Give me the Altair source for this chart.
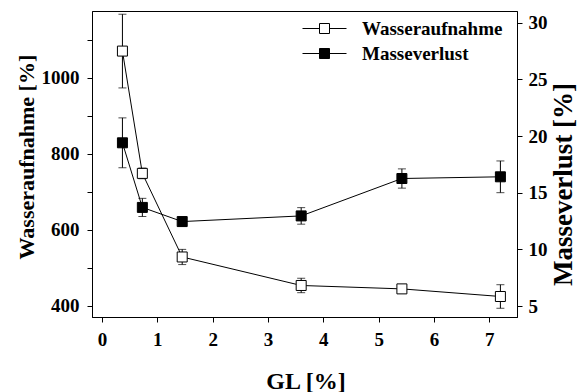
import altair as alt
import pandas as pd

# ---- data ----
gl = [0.37, 0.73, 1.45, 3.6, 5.42, 7.2]
wasser = [1070, 748, 528, 453, 444, 424]
wasser_err = [97, 14, 20, 19, 6, 31]
masse = [19.4, 13.7, 12.45, 12.95, 16.25, 16.4]
masse_err = [2.2, 0.8, 0.4, 0.73, 0.85, 1.4]
series = ["Wasseraufnahme", "Masseverlust"]

x_ticks = [i * 0.5 for i in range(0, 16)]
left_ticks = list(range(400, 1101, 100))
right_ticks = [5 + 2.5 * i for i in range(0, 11)]

df_w = pd.DataFrame({
    "gl": gl, "v": wasser,
    "lo": [a - b for a, b in zip(wasser, wasser_err)],
    "hi": [a + b for a, b in zip(wasser, wasser_err)],
    "series": series[0],
})
df_m = pd.DataFrame({
    "gl": gl, "v": masse,
    "lo": [a - b for a, b in zip(masse, masse_err)],
    "hi": [a + b for a, b in zip(masse, masse_err)],
    "series": series[1],
})

FONT = "Liberation Serif"

x_enc = alt.X(
    "gl:Q",
    scale=alt.Scale(domain=[-0.18, 7.5], nice=False, zero=False),
    axis=alt.Axis(
        title="GL [%]", values=x_ticks,
        labelExpr="datum.value % 1 === 0 ? format(datum.value, 'd') : ''",
        titleFontSize=24, titleX=213.5, titleY=71, titleBaseline="alphabetic",
        titleAnchor="start", titleAlign="center",
    ),
)

fill_enc = alt.Fill(
    "series:N",
    scale=alt.Scale(domain=series, range=["white", "black"]),
    legend=alt.Legend(
        title=None, orient="none", legendX=223, legendY=8,
        symbolType="M-4.4,0L-1,0M1,0L4.4,0M-1,-1L1,-1L1,1L-1,1Z",
        symbolSize=100, symbolStrokeColor="black", symbolStrokeWidth=1,
        labelFont=FONT, labelFontSize=19, labelFontWeight="bold",
        labelOffset=28, rowPadding=5, padding=0, labelColor="black",
    ),
)


def series_layer(df, domain, axis):
    y_scale = alt.Scale(domain=domain, nice=False, zero=False)
    base = alt.Chart(df)
    line = base.mark_line(color="black", strokeWidth=1).encode(
        x=x_enc, y=alt.Y("v:Q", scale=y_scale, axis=axis)
    )
    err = base.mark_rule(color="black", strokeWidth=1).encode(
        x="gl:Q", y=alt.Y("lo:Q", scale=y_scale), y2="hi:Q"
    )
    cap_lo = base.mark_tick(color="black", orient="horizontal", size=8, thickness=1).encode(
        x="gl:Q", y=alt.Y("lo:Q", scale=y_scale)
    )
    cap_hi = base.mark_tick(color="black", orient="horizontal", size=8, thickness=1).encode(
        x="gl:Q", y=alt.Y("hi:Q", scale=y_scale)
    )
    pts = base.mark_point(shape="square", size=100, filled=True, stroke="black",
                          strokeWidth=1, opacity=1).encode(
        x="gl:Q", y=alt.Y("v:Q", scale=y_scale), fill=fill_enc
    )
    return alt.layer(line, err, cap_lo, cap_hi, pts)


left_axis = alt.Axis(
    title="Wasseraufnahme [%]", orient="left", values=left_ticks,
    labelExpr="datum.value % 200 === 0 ? format(datum.value, 'd') : ''",
    titleFontSize=22, titleX=-59, titleY=145.6, titleAngle=270,
    titleBaseline="alphabetic", titleAlign="center", titleAnchor="start",
    labelPadding=8,
)
right_axis = alt.Axis(
    title="Masseverlust [%]", orient="right", values=right_ticks,
    labelExpr="datum.value % 5 === 0 ? format(datum.value, 'd') : ''",
    titleFontSize=27, titleX=54, titleY=173, titleAngle=270,
    titleBaseline="alphabetic", titleAlign="center", titleAnchor="start",
    labelPadding=6,
)

chart = alt.layer(
    series_layer(df_w, [370, 1175.5], left_axis),
    series_layer(df_m, [4.03, 31.03], right_axis),
).resolve_scale(y="independent").properties(
    width=425, height=306,
    background="white",
    autosize=alt.AutoSizeParams(type="none"),
    padding={"left": 92, "top": 11, "right": 60, "bottom": 75},
).configure_view(
    stroke="black", strokeWidth=1
).configure_axis(
    grid=False, domainColor="black", tickColor="black", labelColor="black",
    titleColor="black", tickSize=5, labelFont=FONT, titleFont=FONT,
    labelFontSize=19, labelFontWeight="bold", titleFontWeight="bold",
    labelPadding=8,
).configure_legend(
    labelFont=FONT, labelFontSize=19, labelFontWeight="bold", labelColor="black",
)

chart.save("out.html", embed_options={"renderer": "svg", "actions": False})
